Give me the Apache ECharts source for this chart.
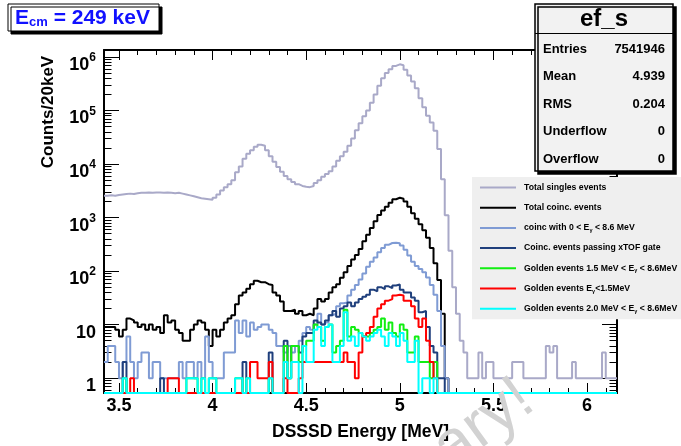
<!DOCTYPE html>
<html><head><meta charset="utf-8">
<script src="https://cdn.jsdelivr.net/npm/echarts@6/dist/echarts.min.js"></script>
<style>html,body{margin:0;padding:0;background:#fff}#c{width:681px;height:446px}</style>
</head><body><div id="c"></div>
<script>
const FONT = 'Liberation Sans';
// binning (Counts / 20 keV)
const BIN_START = 3.42, BIN_WIDTH = 0.02;
const X_MIN = 3.42, X_MAX = 6.16;
const Y_MIN = 0.528, Y_MAX = 1.35e6;

const xMajorTicks = [3.5, 4, 4.5, 5, 5.5, 6];
const xMinorTicks = [3.6, 3.7, 3.8, 3.9, 4.1, 4.2, 4.3, 4.4, 4.6, 4.7, 4.8, 4.9, 5.1, 5.2, 5.3, 5.4, 5.6, 5.7, 5.8, 5.9, 6.1];
const yMajorTicks = [1, 10, 100, 1000, 10000, 100000, 1000000];
const yMinorTicks = [0.6, 0.7, 0.8, 0.9, 2, 3, 4, 5, 6, 7, 8, 9, 20, 30, 40, 50, 60, 70, 80, 90,
  200, 300, 400, 500, 600, 700, 800, 900, 2000, 3000, 4000, 5000, 6000, 7000, 8000, 9000,
  20000, 30000, 40000, 50000, 60000, 70000, 80000, 90000, 200000, 300000, 400000, 500000, 600000, 700000, 800000, 900000];

const seriesNames = [
  'Total singles events',
  'Total coinc. events',
  'coinc with 0 < Eγ < 8.6 MeV',
  'Coinc. events passing xTOF gate',
  'Golden events 1.5 MeV < Eγ < 8.6MeV',
  'Golden events Eγ<1.5MeV',
  'Golden events 2.0 MeV < Eγ < 8.6MeV'
];
const seriesColors = ['#a9a9c8', '#000000', '#7f9bd4', '#1f3f7c', '#11ee11', '#ff0000', '#00ffff'];

const singles = [
  2550, 2600, 2550, 2650, 2700, 2750, 2800, 2750, 2850, 2900,
  2900, 2950, 2900, 2950, 2950, 2900, 2950, 2900, 2850, 2900,
  2800, 2700, 2600, 2500, 2400, 2300, 2250, 2200, 2150, 2350,
  2700, 3200, 3700, 4200, 5000, 7000, 9000, 12500, 15500, 18000,
  21000, 23000, 22000, 18000, 14000, 11000, 8800, 7200, 6000, 5200,
  4600, 4200, 3900, 3750, 3700, 3900, 4400, 5000, 5800, 6500,
  7300, 9000, 11500, 14000, 17000, 22000, 30000, 43000, 58000, 78000,
  100000, 140000, 200000, 290000, 400000, 500000, 590000, 680000, 730000, 700000,
  580000, 450000, 350000, 260000, 170000, 115000, 80000, 60000, 42000, 19000,
  5200, 1100, 240, 50, 16, 5, 3, 1, 1, 1,
  3, 1, 2, 2, 1, 1, 1, 1, 1, 2,
  2, 2, 1, 1, 1, 1, 1, 1, 4, 3,
  4, 1, 1, 1, 1, 2, 1, 1, 1, 1,
  1, 1, 1, 3, 1, 1, 1
];
const coinc = [
  9, 9, 9, 8, 6, 8, 13, 12, 11, 9,
  10, 8, 10, 8, 9, 7, 15, 11, 12, 8,
  7, 5, 5, 8, 10, 12, 11, 8, 4, 8,
  6, 8, 11, 13, 15, 24, 35, 40, 47, 57,
  66, 62, 62, 57, 55, 40, 35, 27, 18, 18,
  19, 16, 18, 15, 16, 15, 20, 30, 27, 30,
  40, 50, 57, 75, 95, 125, 165, 200, 260, 360,
  480, 640, 850, 1120, 1350, 1600, 1900, 2200, 2350, 2250,
  2000, 1600, 1200, 950, 750, 580, 420, 270, 140, 68,
  16, 1, 0, 0, 0, 0, 0, 0, 0, 0,
  0, 0, 0, 0, 0, 0, 0, 0, 0, 0,
  0, 0, 0, 0, 0, 0, 0, 0, 0, 0,
  0, 0, 0, 0, 0, 0, 0, 0, 0, 0,
  0, 0, 0, 0, 0, 0, 0
];
const coincGamma = [
  2, 4, 4, 2, 1, 2, 6, 2, 1, 2,
  3, 3, 1, 2, 2, 1, 1, 1, 1, 1,
  2, 1, 2, 2, 1, 2, 1, 6, 2, 1,
  1, 1, 3, 3, 3, 12, 7, 12, 6, 11,
  8, 9, 10, 10, 8, 7, 4, 4, 3, 4,
  3, 4, 5, 7, 9, 8, 10, 16, 10, 11,
  15, 16, 22, 25, 26, 35, 45, 55, 70, 90,
  120, 150, 180, 225, 270, 310, 335, 340, 330, 300,
  250, 195, 150, 125, 110, 95, 76, 55, 36, 18,
  4, 1, 0, 0, 0, 0, 0, 0, 0, 0,
  0, 0, 0, 0, 0, 0, 0, 0, 0, 0,
  0, 0, 0, 0, 0, 0, 0, 0, 0, 0,
  0, 0, 0, 0, 0, 0, 0, 0, 0, 0,
  0, 0, 0, 0, 0, 0, 0
];
const xtofGate = [
  0, 0, 0, 0, 0, 2, 0, 0, 0, 0,
  0, 0, 0, 0, 0, 1, 0, 0, 0, 0,
  0, 0, 0, 0, 0, 0, 0, 0, 0, 0,
  0, 0, 0, 0, 0, 0, 0, 2, 0, 0,
  0, 0, 0, 0, 3, 0, 0, 0, 5, 1,
  4, 4, 3, 6, 7, 7, 12, 11, 10, 12,
  15, 18, 14, 20, 22, 26, 22, 26, 30, 33,
  36, 45, 42, 50, 46, 52, 48, 54, 56, 45,
  40, 40, 32, 28, 17, 18, 9, 4, 3, 1,
  1, 0, 0, 0, 0, 0, 0, 0, 0, 0,
  0, 0, 0, 0, 0, 0, 0, 0, 0, 0,
  0, 0, 0, 0, 0, 0, 0, 0, 0, 0,
  0, 0, 0, 0, 0, 0, 0, 0, 0, 0,
  0, 0, 0, 0, 0, 0, 0
];
const golden15 = [
  0, 0, 0, 0, 0, 1, 0, 0, 0, 0,
  0, 0, 0, 0, 0, 0, 0, 0, 0, 0,
  0, 0, 1, 1, 1, 0, 1, 0, 1, 1,
  0, 0, 0, 0, 0, 1, 1, 0, 1, 0,
  0, 0, 0, 0, 1, 0, 0, 0, 4, 1,
  4, 4, 2, 4, 5, 5, 10, 9, 5, 9,
  10, 3, 4, 5, 19, 6, 9, 8, 7, 6,
  6, 7, 8, 9, 13, 8, 11, 7, 6, 10,
  8, 3, 3, 6, 2, 2, 2, 1, 2, 0,
  0, 0, 0, 0, 0, 0, 0, 0, 0, 0,
  0, 0, 0, 0, 0, 0, 0, 0, 0, 0,
  0, 0, 0, 0, 0, 0, 0, 0, 0, 0,
  0, 0, 0, 0, 0, 0, 0, 0, 0, 0,
  0, 0, 0, 0, 0, 0, 0
];
const goldenLow = [
  0, 0, 0, 0, 0, 0, 0, 1, 0, 0,
  0, 0, 0, 0, 0, 0, 0, 1, 1, 1,
  0, 0, 0, 0, 0, 0, 0, 0, 0, 0,
  0, 0, 0, 0, 0, 0, 0, 0, 0, 2,
  2, 1, 1, 1, 2, 0, 0, 0, 1, 0,
  0, 0, 1, 2, 2, 2, 2, 2, 2, 2,
  2, 2, 2, 2, 3, 2, 2, 1, 3, 6,
  7, 9, 14, 20, 24, 28, 30, 35, 36, 35,
  28, 28, 22, 13, 9, 13, 5, 2, 1, 0,
  0, 0, 0, 0, 0, 0, 0, 0, 0, 0,
  0, 0, 0, 0, 0, 0, 0, 0, 0, 0,
  0, 0, 0, 0, 0, 0, 0, 0, 0, 0,
  0, 0, 0, 0, 0, 0, 0, 0, 0, 0,
  0, 0, 0, 0, 0, 0, 0
];
const golden20 = [
  0, 0, 0, 0, 0, 1, 0, 0, 0, 0,
  0, 0, 0, 0, 0, 0, 0, 0, 0, 0,
  0, 0, 1, 1, 1, 0, 1, 0, 1, 1,
  0, 0, 0, 0, 0, 1, 1, 0, 1, 0,
  0, 0, 0, 0, 1, 0, 0, 0, 2, 1,
  2, 2, 0, 4, 2, 2, 8, 9, 4, 9,
  10, 2, 2, 4, 17, 5, 6, 4, 7, 6,
  5, 6, 7, 8, 6, 4, 7, 6, 4, 7,
  5, 2, 2, 5, 0, 1, 1, 0, 1, 0,
  0, 0, 0, 0, 0, 0, 0, 0, 0, 0,
  0, 0, 0, 0, 0, 0, 0, 0, 0, 0,
  0, 0, 0, 0, 0, 0, 0, 0, 0, 0,
  0, 0, 0, 0, 0, 0, 0, 0, 0, 0,
  0, 0, 0, 0, 0, 0, 0
];

const statsTitle = 'ef_s';
const statsLabels = ['Entries', 'Mean', 'RMS', 'Underflow', 'Overflow'];
const statsValues = ['7541946', '4.939', '0.204', '0', '0'];
const titleText = { main: 'E', sub: 'cm', rest: ' = 249 keV' };
const watermark = 'Preliminary!';

const allCounts = [singles, coinc, coincGamma, xtofGate, golden15, goldenLow, golden20];
allCounts.forEach((a, k) => { if (a.length !== 137) throw new Error('series ' + k + ' length ' + a.length); });

// histogram -> step polyline (empty bins drawn on the frame bottom, as in ROOT log plots)
function toSteps(counts) {
  const pts = counts.map((c, i) => [+(BIN_START + i * BIN_WIDTH).toFixed(3), c > 0 ? c : Y_MIN]);
  const last = counts[counts.length - 1];
  pts.push([+(BIN_START + counts.length * BIN_WIDTH).toFixed(3), last > 0 ? last : Y_MIN]);
  return pts;
}

function yLabel(v) {
  const e = Math.round(Math.log10(v));
  if (e === 0) return '{b|1}';
  if (e === 1) return '{b|10}';
  return '{b|10}{s|' + e + '}';
}

const frame = { show: true, onZero: false, lineStyle: { color: '#000', width: 2 } };
function xAx(pos, ticks, len, major) {
  return {
    type: 'value', position: pos, min: X_MIN, max: X_MAX, gridIndex: 0,
    axisLine: major ? frame : { show: false },
    splitLine: { show: false },
    axisTick: { show: true, inside: true, length: len, customValues: ticks, lineStyle: { color: '#000', width: 1 } },
    axisLabel: { show: false }
  };
}
function yAx(pos, ticks, len, major) {
  return {
    type: 'log', logBase: 10, position: pos, min: Y_MIN, max: Y_MAX, gridIndex: 0,
    axisLine: major ? frame : { show: false },
    splitLine: { show: false },
    axisTick: { show: true, inside: true, length: len, customValues: ticks, lineStyle: { color: '#000', width: 1 } },
    axisLabel: { show: false }
  };
}

const xMain = xAx('bottom', xMajorTicks, 10, true);
xMain.axisLabel = {
  show: true, customValues: xMajorTicks, margin: 4, color: '#000',
  fontFamily: FONT, fontWeight: 'bold', fontSize: 18, lineHeight: 18,
  formatter: v => String(v)
};
xMain.name = 'DSSSD Energy [MeV]';
xMain.nameLocation = 'middle';
xMain.nameGap = 30;
xMain.nameTextStyle = { fontFamily: FONT, fontWeight: 'bold', fontSize: 17.5, color: '#000', lineHeight: 18 };

const yMain = yAx('left', yMajorTicks, 15, true);
yMain.axisLabel = {
  show: true, customValues: yMajorTicks, margin: 8, formatter: yLabel, padding: [12, 0, 0, 0],
  rich: {
    b: { fontFamily: FONT, fontWeight: 'bold', fontSize: 18, lineHeight: 22, color: '#000', verticalAlign: 'bottom' },
    s: { fontFamily: FONT, fontWeight: 'bold', fontSize: 12, lineHeight: 8, color: '#000', verticalAlign: 'top' }
  }
};
yMain.name = 'Counts/20keV';
yMain.nameLocation = 'middle';
yMain.nameRotate = 90;
yMain.nameGap = 47;
yMain.nameTextStyle = { fontFamily: FONT, fontWeight: 'bold', fontSize: 17, color: '#000', lineHeight: 17, padding: [0, 0, 0, 219] };

const option = {
  animation: false,
  textStyle: { fontFamily: FONT },
  grid: { left: 104, right: 64, top: 50, bottom: 49, containLabel: false },
  xAxis: [xMain, xAx('bottom', xMinorTicks, 5, false), xAx('top', xMajorTicks, 10, true), xAx('top', xMinorTicks, 5, false)],
  yAxis: [yMain, yAx('left', yMinorTicks, 7.5, false), yAx('right', yMajorTicks, 15, true), yAx('right', yMinorTicks, 7.5, false)],
  legend: {
    orient: 'vertical', left: 472, top: 177, padding: [5, 24, 5, 8],
    itemWidth: 36, itemHeight: 2, itemGap: 9.2, icon: 'rect',
    backgroundColor: '#efefef', selectedMode: false,
    data: seriesNames,
    formatter: n => n.replace('Eγ', 'E{s|γ}'),
    textStyle: {
      fontFamily: FONT, fontWeight: 'bold', fontSize: 8.7, color: '#000', lineHeight: 11, padding: [0, 0, 0, 3],
      rich: { s: { fontFamily: FONT, fontWeight: 'bold', fontSize: 5.5, lineHeight: 6, color: '#000', verticalAlign: 'bottom' } }
    }
  },
  series: allCounts.map((counts, k) => ({
    type: 'line', name: seriesNames[k], xAxisIndex: 0, yAxisIndex: 0,
    step: 'end', symbol: 'none', showSymbol: false, silent: true, clip: true,
    color: seriesColors[k], itemStyle: { color: seriesColors[k] },
    lineStyle: { color: seriesColors[k], width: 2 },
    data: toSteps(counts), z: 2 + k
  })),
  graphic: {
    elements: [
      // title box
      { type: 'rect', z: 100, shape: { x: 8, y: 4, width: 151, height: 27 },
        style: { fill: '#fff', stroke: '#000', lineWidth: 1, shadowColor: '#000', shadowOffsetX: 3, shadowOffsetY: 3, shadowBlur: 0 } },
      { type: 'text', z: 101, x: 15, y: 17.5,
        style: { text: '{a|' + titleText.main + '}{b|' + titleText.sub + '}{a|' + titleText.rest + '}',
          verticalAlign: 'middle', textVerticalAlign: 'middle',
          rich: {
            a: { fontFamily: FONT, fontWeight: 'bold', fontSize: 21, lineHeight: 22, fill: '#1111ff', color: '#1111ff', verticalAlign: 'bottom' },
            b: { fontFamily: FONT, fontWeight: 'bold', fontSize: 13, lineHeight: 8, fill: '#1111ff', color: '#1111ff', verticalAlign: 'bottom' }
          } } },
      // stats box
      { type: 'rect', z: 100, shape: { x: 535, y: 4, width: 138, height: 167 },
        style: { fill: '#f2f2f2', stroke: '#000', lineWidth: 1.5, shadowColor: '#000', shadowOffsetX: 3, shadowOffsetY: 3, shadowBlur: 0 } },
      { type: 'line', z: 101, shape: { x1: 535, y1: 33.5, x2: 673, y2: 33.5 }, style: { stroke: '#000', lineWidth: 1.2 } },
      { type: 'text', z: 101, x: 604, y: 19,
        style: { text: statsTitle, font: 'bold 24px ' + FONT, fill: '#000', align: 'center', textAlign: 'center', verticalAlign: 'middle', textVerticalAlign: 'middle' } },
      ...statsLabels.map((t, k) => ({ type: 'text', z: 101, x: 543, y: 49.3 + 27.5 * k,
        style: { text: t, font: 'bold 13px ' + FONT, fill: '#000', align: 'left', textAlign: 'left', verticalAlign: 'middle', textVerticalAlign: 'middle' } })),
      ...statsValues.map((t, k) => ({ type: 'text', z: 101, x: 665, y: 49.3 + 27.5 * k,
        style: { text: t, font: 'bold 13px ' + FONT, fill: '#000', align: 'right', textAlign: 'right', verticalAlign: 'middle', textVerticalAlign: 'middle' } })),
      // watermark
      { type: 'text', z: 200, x: 527, y: 393, rotation: 0.63,
        style: { text: watermark, font: '64px ' + FONT, fill: '#d2d2d2', align: 'right', textAlign: 'right', verticalAlign: 'middle', textVerticalAlign: 'middle' } }
    ]
  }
};

const chart = echarts.init(document.getElementById('c'), null, { renderer: 'canvas' });
chart.setOption(option);
</script>
</body></html>
